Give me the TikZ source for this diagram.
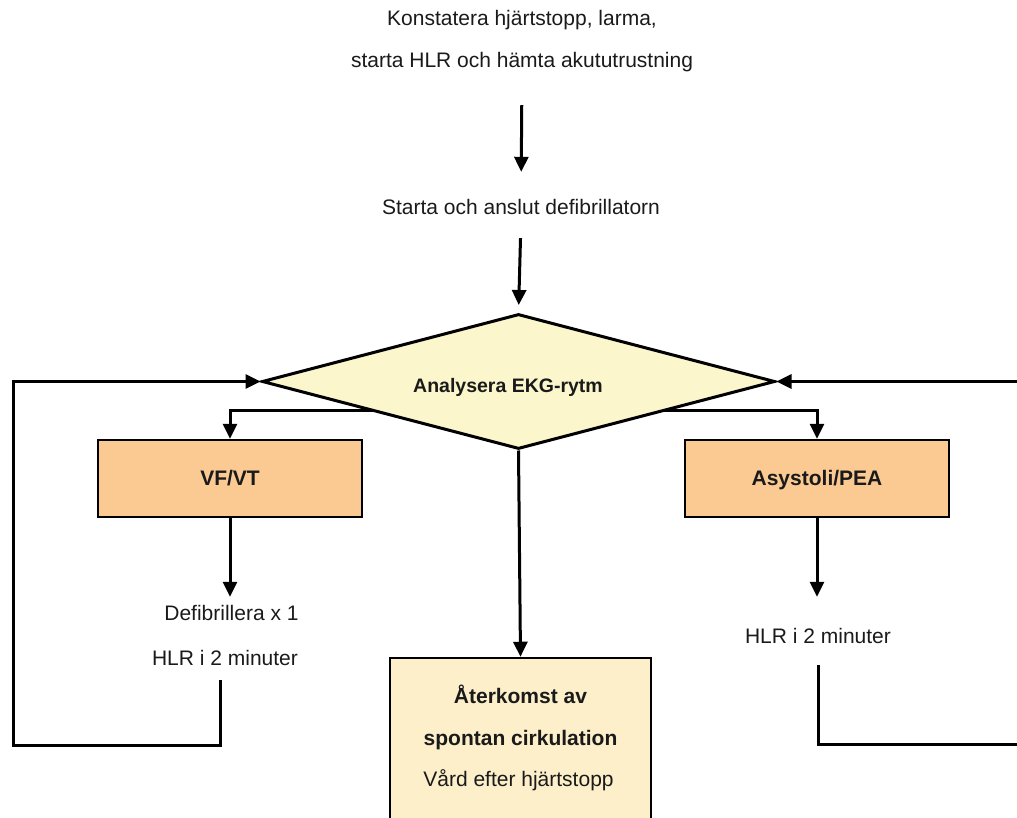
\documentclass[tikz,border=0pt]{standalone}
\usepackage{fontspec}
\setmainfont{Liberation Sans}
\usetikzlibrary{arrows.meta,shapes.geometric}
\definecolor{diafill}{HTML}{FBF6CB}
\definecolor{orangebox}{HTML}{FBCA93}
\definecolor{lastbox}{HTML}{FCEFCA}
\definecolor{ink}{HTML}{1A1A1A}
\begin{document}
\begin{tikzpicture}[x=1pt,y=-1pt,
  txt/.style={inner sep=0pt, font=\fontsize{21}{25}\selectfont, text=ink, text height=15pt, text depth=5pt, anchor=base},
  btxt/.style={txt, font=\fontsize{21}{25}\selectfont\bfseries},
  arr/.style={line width=3pt, -{Triangle[width=14pt,length=15pt]}},
  conn/.style={line width=3pt},
  dia/.style={diamond, draw, line width=3pt, fill=diafill, minimum width=513pt, minimum height=135pt, inner sep=0pt},
  obox/.style={rectangle, draw, line width=2.5pt, fill=orangebox, minimum width=264pt, minimum height=77pt, inner sep=0pt, font=\fontsize{21}{25}\selectfont\bfseries, text=ink, text height=14pt, text depth=0pt},
  fbox/.style={rectangle, draw, line width=2.5pt, fill=lastbox, minimum width=261pt, minimum height=180pt, inner sep=0pt}
]
\useasboundingbox (0,0) rectangle (1017,818);
\clip (0,0) rectangle (1017,818);

% texts at top
\node[txt] (l1) at (522,26) {Konstatera hjärtstopp, larma,};
\node[txt] (l2) at (522,68) {starta HLR och hämta akututrustning};
\node[txt] (def) at (521,215) {Starta och anslut defibrillatorn};

% branch line (behind diamond)
\coordinate (br) at (518,410);
\node[obox] (vf) at (230,478.5) {VF/VT};
\node[obox] (as) at (817,478.5) {Asystoli/PEA};
\draw[arr] (br) -| (vf.north);
\draw[arr] (br) -| (as.north);

% diamond
\node[dia] (dia) at (518.5,381.5) {};
\node[btxt, font=\fontsize{19.5}{24}\selectfont\bfseries] (ta) at (508,392) {Analysera EKG-rytm};

% final box
\node[fbox] (ret) at (520.5,748) {};
\node[btxt] (r1) at (520.5,703) {Återkomst av};
\node[btxt] (r2) at (520.5,745) {spontan cirkulation};
\node[txt] (r3) at (518.5,786) {Vård efter hjärtstopp};

% lower texts
\node[txt] (defL) at (231.5,620) {Defibrillera x 1};
\node[txt] (hlrL) at (225,665) {HLR i 2 minuter};
\node[txt] (hlrR) at (818,643) {HLR i 2 minuter};

% connectors
\draw[arr, shorten <=32pt, shorten >=28pt] (l2.south) -- (def.north);
\draw[arr, shorten <=18pt, shorten >=7.5pt] (def.south) -- (dia.north);
\draw[arr] (dia.south) -- (ret.north);
\draw[arr, shorten >=8pt] (vf.south) -- (vf.south |- defL.north);
\draw[arr, shorten >=31pt] (as.south) -- (as.south |- hlrR.north);

% loops
\coordinate (lA) at (220,680);
\coordinate (lB) at (220,745);
\coordinate (lC) at (13,745);
\draw[arr] (lA) -- (lB) -- (lC) |- (dia.west);
\coordinate (rA) at (818,665);
\coordinate (rB) at (818,744);
\coordinate (rC) at (1030,744);
\draw[arr] (rA) -- (rB) -- (rC) |- (dia.east);
\end{tikzpicture}
\end{document}
